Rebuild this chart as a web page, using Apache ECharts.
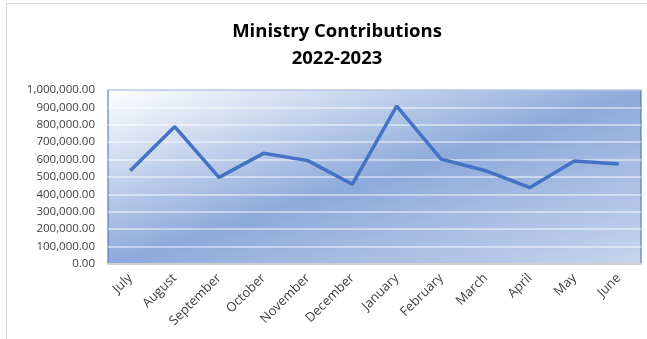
<!DOCTYPE html>
<html>
<head>
<meta charset="utf-8">
<style>
  html, body { margin: 0; padding: 0; background: #fff; }
  #frame { position: absolute; left: 6px; top: 3px; width: 660px; height: 360px; border: 1px solid #d9d9d9; }
  #chart { width: 647px; height: 339px; position: absolute; left: 0; top: 0; }
</style>
<script src="https://cdn.jsdelivr.net/npm/echarts@6/dist/echarts.min.js"></script>
</head>
<body>
<div id="frame"></div>
<div id="chart"></div>
<script>
const months = ['July', 'August', 'September', 'October', 'November', 'December',
  'January', 'February', 'March', 'April', 'May', 'June']
const contributions = [536000, 789000, 498000, 636000, 594000, 458000,
  908000, 603000, 536000, 439000, 592000, 575000]
const titleLines = ['Ministry Contributions', '2022-2023']

const chart = echarts.init(document.getElementById('chart'))

// gradient runs across the plot so bands lie from bottom-left to top-right
const plotFill = new echarts.graphic.LinearGradient(0, 0, 0.19, 1.81, [
  { offset: 0, color: '#ffffff' },
  { offset: 0.5, color: '#8eaadb' },
  { offset: 1, color: '#c9d6ed' }
])

const option = {
  animation: false,
  title: {
    text: titleLines.join('\n'),
    left: 332,
    top: 13,
    textAlign: 'center',
    textStyle: { fontFamily: 'Open Sans', fontSize: 18.5, fontWeight: 'bold', color: '#000', lineHeight: 27 }
  },
  grid: {
    left: 108, right: 6, top: 90, bottom: 75,
    show: true,
    borderColor: '#3e68b5',
    borderWidth: 1,
    backgroundColor: plotFill
  },
  xAxis: {
    type: 'category',
    data: months,
    boundaryGap: true,
    axisLine: { show: true, lineStyle: { color: '#d0d0d0', width: 2 } },
    axisTick: { show: false },
    axisLabel: {
      rotate: 45, interval: 0, margin: 12,
      fontFamily: 'Open Sans', fontSize: 13, color: '#404040'
    }
  },
  yAxis: {
    type: 'value',
    min: 0, max: 1000000, interval: 100000,
    axisLine: { show: false },
    axisTick: { show: false },
    axisLabel: {
      margin: 13,
      fontFamily: 'Open Sans', fontSize: 11.5, color: '#404040',
      formatter: v => v.toLocaleString('en-US', { minimumFractionDigits: 2, maximumFractionDigits: 2 })
    },
    splitLine: { lineStyle: { color: 'rgba(255,255,255,0.6)', width: 1.5 } }
  },
  series: [{
    type: 'line',
    data: contributions,
    symbol: 'none',
    lineStyle: { color: '#4472c4', width: 3.5 }
  }]
}

chart.setOption(option)
</script>
</body>
</html>
